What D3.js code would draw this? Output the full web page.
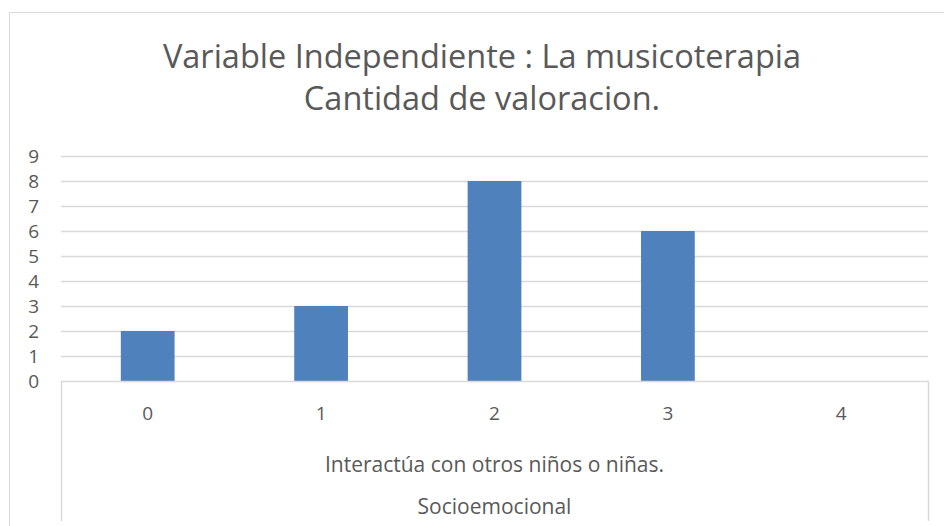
<!DOCTYPE html>
<html>
<head>
<meta charset="utf-8">
<script src="https://cdn.jsdelivr.net/npm/d3@7"></script>
<style>
  body { margin: 0; background: #fff; }
  text { font-family: "Open Sans", sans-serif; fill: #595959; }
</style>
</head>
<body>
<script>
// data
var categories = ["0", "1", "2", "3", "4"];
var values = [2, 3, 8, 6, 0];
var yTicks = [0, 1, 2, 3, 4, 5, 6, 7, 8, 9];
var titleLines = ["Variable Independiente : La musicoterapia", "Cantidad de valoracion."];
var groupLabel = "Interactúa con otros niños o niñas.";
var outerLabel = "Socioemocional";

var width = 944, height = 526;
var plotLeft = 61, plotRight = 928, plotTop = 156, plotBottom = 381;

var svg = d3.select("body").append("svg")
  .attr("width", width)
  .attr("height", height);

// chart frame, cut off on right and bottom like the screenshot
svg.append("rect")
  .attr("x", 9.5).attr("y", 12.5)
  .attr("width", 1000).attr("height", 600)
  .attr("fill", "none")
  .attr("stroke", "#d9d9d9");

var x = d3.scaleBand()
  .domain(categories)
  .range([plotLeft, plotRight])
  .paddingInner(0.69)
  .paddingOuter(0.345);

var xCat = d3.scaleBand().domain(categories).range([plotLeft, plotRight]);

var y = d3.scaleLinear()
  .domain([0, 9])
  .range([plotBottom, plotTop]);

// gridlines
svg.append("g")
  .selectAll("line")
  .data(yTicks.filter(function(d) { return d > 0; }))
  .enter().append("line")
  .attr("x1", plotLeft).attr("x2", plotRight)
  .attr("y1", function(d) { return Math.round(y(d)) + 0.5; })
  .attr("y2", function(d) { return Math.round(y(d)) + 0.5; })
  .attr("stroke", "#d9d9d9")
  .attr("stroke-width", 1.5);

// y axis labels
var yAxis = d3.axisLeft(y).tickValues(yTicks).tickSize(0).tickPadding(0);
var gy = svg.append("g")
  .attr("transform", "translate(39,0)")
  .call(yAxis);
gy.select(".domain").remove();
gy.selectAll("text")
  .style("font-family", "'Open Sans', sans-serif")
  .style("font-size", "19px")
  .attr("fill", "#595959");

// bars
svg.append("g")
  .selectAll("rect")
  .data(values)
  .enter().append("rect")
  .attr("x", function(d, i) { return x(categories[i]); })
  .attr("width", x.bandwidth())
  .attr("y", function(d) { return y(d); })
  .attr("height", function(d) { return plotBottom - y(d); })
  .attr("fill", "#4f81bd");

// category axis (multi-level)
svg.append("line")
  .attr("x1", plotLeft).attr("x2", plotRight)
  .attr("y1", plotBottom + 0.5).attr("y2", plotBottom + 0.5)
  .attr("stroke", "#d9d9d9").attr("stroke-width", 1.5);
[plotLeft, plotRight].forEach(function(xx) {
  svg.append("line")
    .attr("x1", xx + 0.5).attr("x2", xx + 0.5)
    .attr("y1", plotBottom).attr("y2", 521)
    .attr("stroke", "#d9d9d9").attr("stroke-width", 1.5);
});

svg.append("g")
  .selectAll("text")
  .data(categories)
  .enter().append("text")
  .attr("x", function(d) { return xCat(d) + xCat.bandwidth() / 2; })
  .attr("y", 420)
  .attr("text-anchor", "middle")
  .style("font-size", "19px")
  .text(function(d) { return d; });

svg.append("text")
  .attr("x", (plotLeft + plotRight) / 2)
  .attr("y", 472)
  .attr("text-anchor", "middle")
  .style("font-size", "21px")
  .text(groupLabel);

svg.append("text")
  .attr("x", (plotLeft + plotRight) / 2)
  .attr("y", 514)
  .attr("text-anchor", "middle")
  .style("font-size", "21px")
  .text(outerLabel);

// title
svg.append("g")
  .selectAll("text")
  .data(titleLines)
  .enter().append("text")
  .attr("x", 482)
  .attr("y", function(d, i) { return 68 + i * 42; })
  .attr("text-anchor", "middle")
  .style("font-size", "32.5px")
  .text(function(d) { return d; });
</script>
</body>
</html>
